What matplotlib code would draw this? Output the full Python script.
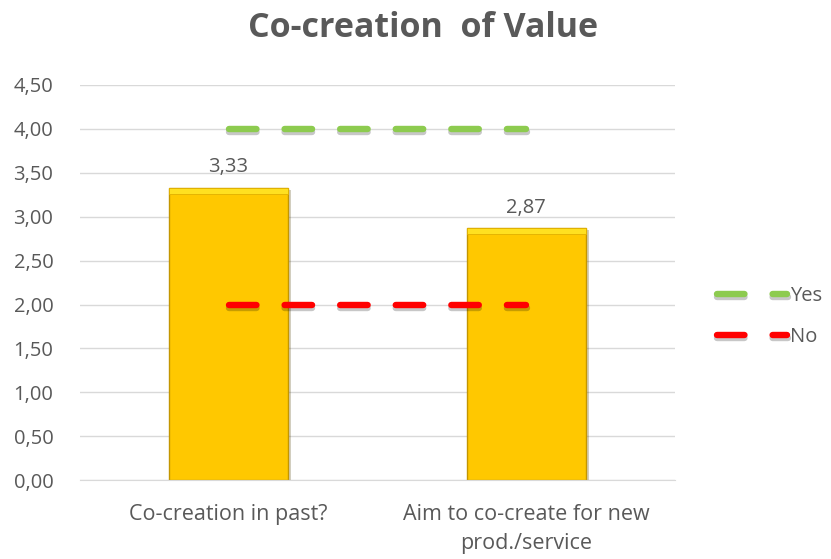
import numpy as np
import matplotlib.pyplot as plt
import matplotlib.patheffects as pe

categories = ['Co-creation in past?', 'Aim to co-create for new\nprod./service']
values = [3.33, 2.87]
yes_line = [4.0, 4.0]
no_line = [2.0, 2.0]
yticks = [0, 0.5, 1, 1.5, 2, 2.5, 3, 3.5, 4, 4.5]

plt.rcParams['font.family'] = ['Open Sans', 'DejaVu Sans']
grey = '#595959'

fig = plt.figure(figsize=(8.31, 5.59), dpi=100)
ax = fig.add_axes([0.096, 0.141, 0.716, 0.707])

x = np.arange(len(categories))
shadow = [pe.SimplePatchShadow(offset=(2.5, -1.5), alpha=0.25), pe.Normal()]
bars = ax.bar(x, values, width=0.4, color='#FFC800', edgecolor='#C39600', linewidth=1.0,
              zorder=2, path_effects=shadow)
# lighter bevel along the top of each bar
bev = 0.07
ax.bar(x, [bev] * len(values), bottom=[v - bev for v in values], width=0.4,
       color='#FFE020', edgecolor='#E0B000', linewidth=0.6, zorder=2.5)
for b, v in zip(bars, values):
    ax.text(b.get_x() + b.get_width() / 2, v + 0.12, f'{v:.2f}'.replace('.', ','),
            ha='center', va='bottom', fontsize=14.5, color=grey)

dash = (0, (4.3, 4.4))
lshadow = [pe.SimpleLineShadow(offset=(0.5, -2.5), alpha=0.22, shadow_color='k'), pe.Normal()]
ax.plot(x, yes_line, color='#8DCB4F', lw=4.6, ls=dash, dash_capstyle='round',
        label='Yes', zorder=3, path_effects=lshadow)
ax.plot(x, no_line, color='#FF0000', lw=4.6, ls=dash, dash_capstyle='round',
        label='No', zorder=3, path_effects=lshadow)

ax.set_xlim(-0.5, 1.5)
ax.set_ylim(0, 4.5)
ax.set_yticks(yticks)
ax.set_yticklabels([f'{t:.2f}'.replace('.', ',') for t in yticks])
ax.set_xticks(x)
ax.set_xticklabels(categories, linespacing=1.5, fontsize=15.5)
ax.tick_params(axis='both', length=0, labelcolor=grey)
ax.tick_params(axis='y', pad=19, labelsize=14.5)
ax.tick_params(axis='x', pad=17)
ax.grid(axis='y', color='#D9D9D9', lw=1, zorder=0)
for s in ['top', 'right', 'left']:
    ax.spines[s].set_visible(False)
ax.spines['bottom'].set_color('#D9D9D9')

fig.text(0.509, 0.95, 'Co-creation  of Value', ha='center', va='center',
         fontsize=24.5, fontweight='bold', color=grey)

leg = ax.legend(loc='center left', bbox_to_anchor=(1.04, 0.415), frameon=False,
                fontsize=14.5, labelcolor=grey, handlelength=3.5, handletextpad=0.15,
                labelspacing=1.05)

fig.savefig('out.png', dpi=100)
